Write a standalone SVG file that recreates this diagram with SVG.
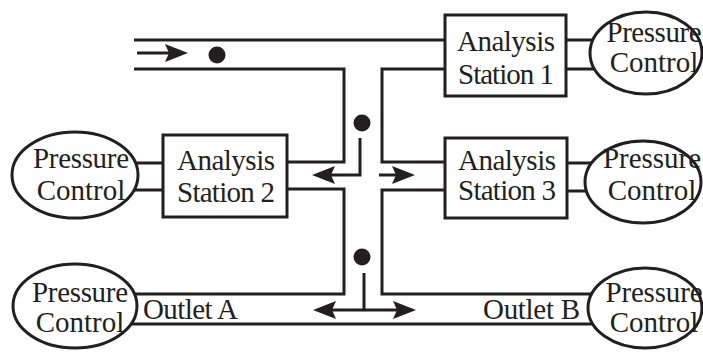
<svg xmlns="http://www.w3.org/2000/svg" width="703" height="352" viewBox="0 0 703 352">
<style>
.w{fill:none;stroke:#231f20;stroke-width:3;stroke-linejoin:miter}
.a{fill:none;stroke:#231f20;stroke-width:3}
.head{fill:#231f20;stroke:none}
.box{fill:#fff;stroke:#231f20;stroke-width:3}
.ell{fill:#fff;stroke:#231f20;stroke-width:3}
.dot{fill:#231f20}
text{font-family:"Liberation Serif","Times New Roman",serif;font-size:29px;fill:#231f20}
.c{text-anchor:middle}
</style>
<defs>
<path id="ahR" class="head" d="M0,0 L-23,-9 L-19,0 L-23,9 Z"/>
<path id="ahL" class="head" d="M0,0 L23,-9 L19,0 L23,9 Z"/>
</defs>
<g id="connectors">
<polyline class="w" points="134,40 646,40"/>
<polyline class="w" points="134,69 344,69 344,162 287,162"/>
<polyline class="w" points="600,69 382,69 382,162 445,162"/>
<polyline class="w" points="287,189 344,189 344,294 120,294"/>
<polyline class="w" points="445,190 382,190 382,294 600,294"/>
<line class="w" x1="120" y1="324" x2="600" y2="324"/>
<line class="w" x1="130" y1="163" x2="163" y2="163"/>
<line class="w" x1="130" y1="190" x2="163" y2="190"/>
<line class="w" x1="566" y1="163" x2="600" y2="163"/>
<line class="w" x1="566" y1="191" x2="600" y2="191"/>
<line class="a" x1="137" y1="53" x2="170" y2="53"/>
<use href="#ahR" x="188" y="53"/>
<polyline class="a" points="360,138 360,175 330,175"/>
<use href="#ahL" x="312" y="175"/>
<line class="a" x1="379" y1="175" x2="398" y2="175"/>
<use href="#ahR" x="415" y="175"/>
<line class="a" x1="364" y1="273" x2="364" y2="310"/>
<line class="a" x1="331" y1="310" x2="398" y2="310"/>
<use href="#ahL" x="313" y="310"/>
<use href="#ahR" x="416" y="310"/>
<circle class="dot" cx="217" cy="55" r="8.5"/>
<circle class="dot" cx="362" cy="123" r="8.5"/>
<circle class="dot" cx="362" cy="257" r="8.5"/>
</g>
<g id="station1">
<rect class="box" x="445" y="15" width="121" height="81"/>
<text class="c" x="506" y="51" textLength="98">Analysis</text>
<text class="c" x="506" y="84" textLength="96">Station 1</text>
</g>
<g id="pc1">
<ellipse class="ell" cx="646" cy="53" rx="56" ry="41"/>
<text class="c" x="654" y="42" textLength="95">Pressure</text>
<text class="c" x="654" y="72">Control</text>
</g>
<g id="station2">
<rect class="box" x="163" y="135" width="124" height="82"/>
<text class="c" x="226" y="170" textLength="98">Analysis</text>
<text class="c" x="226" y="202" textLength="98">Station 2</text>
</g>
<g id="pc2">
<ellipse class="ell" cx="75" cy="175" rx="63" ry="43"/>
<text class="c" x="81" y="168" textLength="96">Pressure</text>
<text class="c" x="81" y="200">Control</text>
</g>
<g id="station3">
<rect class="box" x="445" y="138" width="122" height="80"/>
<text class="c" x="507" y="170" textLength="98">Analysis</text>
<text class="c" x="507" y="200" textLength="98">Station 3</text>
</g>
<g id="pc3">
<ellipse class="ell" cx="643" cy="182" rx="58" ry="41"/>
<text class="c" x="652" y="168" textLength="98">Pressure</text>
<text class="c" x="652" y="200">Control</text>
</g>
<g id="pcA">
<ellipse class="ell" cx="75" cy="306" rx="62" ry="42"/>
<text class="c" x="80" y="302" textLength="96">Pressure</text>
<text class="c" x="80" y="332">Control</text>
</g>
<g id="pcB">
<ellipse class="ell" cx="645" cy="308" rx="57" ry="40"/>
<text class="c" x="654" y="302" textLength="97">Pressure</text>
<text class="c" x="654" y="332">Control</text>
</g>
<g id="labels">
<text x="143" y="319" textLength="95">Outlet A</text>
<text x="580" y="319" text-anchor="end" textLength="97">Outlet B</text>
</g>
</svg>
